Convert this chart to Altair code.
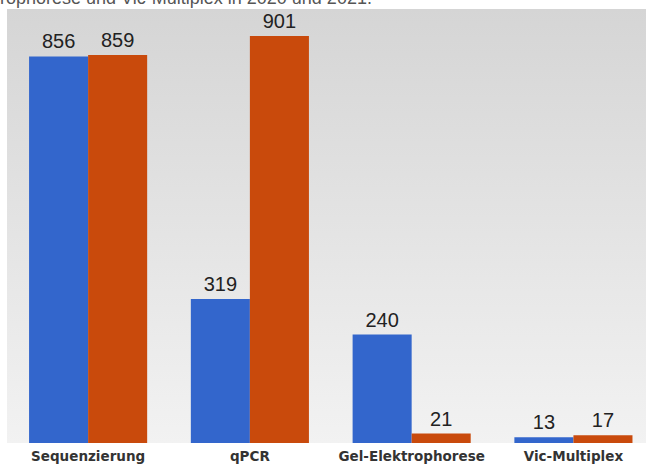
import altair as alt
import pandas as pd

categories = ["Sequenzierung", "qPCR", "Gel-Elektrophorese", "Vic-Multiplex"]
years = ["2020", "2021"]
values_2020 = [856, 319, 240, 13]
values_2021 = [859, 901, 21, 17]
title_text = "rophorese und Vic-Multiplex in 2020 und 2021."

rows = []
for c, a, b in zip(categories, values_2020, values_2021):
    rows.append({"cat": c, "year": years[0], "value": a})
    rows.append({"cat": c, "year": years[1], "value": b})
df = pd.DataFrame(rows)

W, H = 639, 434

bg = alt.Chart(pd.DataFrame({"a": [0]})).mark_rect(
    color=alt.Gradient(
        gradient="linear", x1=0, y1=0, x2=0, y2=1,
        stops=[alt.GradientStop(color="#d5d5d5", offset=0),
               alt.GradientStop(color="#f2f2f2", offset=1)]
    )
).encode(x=alt.value(0), x2=alt.value(W), y=alt.value(0), y2=alt.value(H))

xenc = alt.X("cat:N", sort=categories,
             scale=alt.Scale(paddingInner=0.27, paddingOuter=0.11, align=0.62),
             axis=alt.Axis(title=None, labelAngle=0, labelFont="DejaVu Sans",
                           labelFontSize=13.5, labelFontWeight="bold", labelColor="#333333",
                           labelPadding=6, ticks=False, domain=False))
yenc = alt.Y("value:Q", scale=alt.Scale(domain=[0, 961], nice=False), axis=None)
off = alt.XOffset("year:N", sort=years, scale=alt.Scale(paddingInner=0, paddingOuter=0))
col = alt.Color("year:N", sort=years,
                scale=alt.Scale(domain=years, range=["#3366cc", "#c94a0c"]), legend=None)

bars = alt.Chart(df).mark_bar().encode(x=xenc, y=yenc, xOffset=off, color=col)
labels = alt.Chart(df).mark_text(
    baseline="bottom", dy=-4, font="Liberation Sans", fontSize=20, color="#222222"
).encode(x=xenc, y=yenc, xOffset=off, text="value:Q")

title = alt.Chart(pd.DataFrame({"t": [title_text]})).mark_text(
    align="left", baseline="alphabetic", font="Liberation Sans", fontSize=18, color="#555555"
).encode(x=alt.value(-7), y=alt.value(-5), text="t:N")

chart = alt.layer(bg, bars, labels, title).properties(
    width=W, height=H,
    autosize=alt.AutoSizeParams(type="none"),
    padding={"left": 7, "top": 9, "right": 0, "bottom": 24},
    background="white"
).configure_view(stroke=None)

chart.save("out.html", embed_options={"renderer": "svg", "actions": False})
